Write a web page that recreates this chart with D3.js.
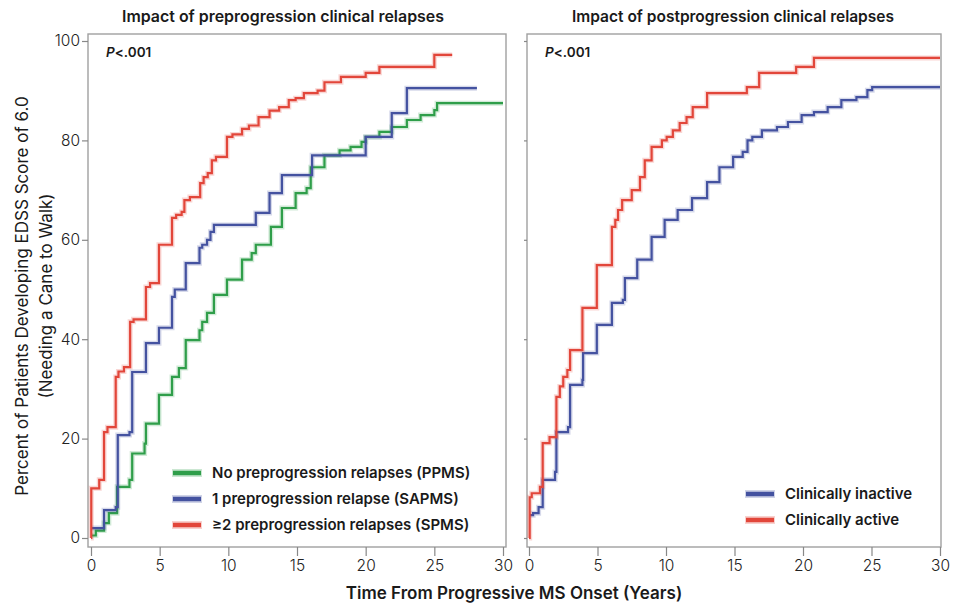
<!DOCTYPE html>
<html>
<head>
<meta charset="utf-8">
<script src="https://cdn.jsdelivr.net/npm/d3@7"></script>
<style>
  body { margin: 0; background: #fff; }
  text { font-family: Inter, "Noto Sans", sans-serif; fill: #1a1a1a; }
</style>
</head>
<body>
<div id="chart"></div>
<script>
var w = 960;
var h = 605;

// Panel titles and legend labels
var panelTitles = ["Impact of preprogression clinical relapses", "Impact of postprogression clinical relapses"];
var leftLabels = ["No preprogression relapses (PPMS)", "1 preprogression relapse (SAPMS)", "\u22652 preprogression relapses (SPMS)"];
var rightLabels = ["Clinically inactive", "Clinically active"];
var xTicks = [0, 5, 10, 15, 20, 25, 30];
var yTicks = [0, 20, 40, 60, 80, 100];

// Cumulative incidence, [years, percent] (step after)
var ppms = [[0, 0.5], [0.35, 1.5], [0.95, 3], [1.3, 5], [1.9, 10.3], [2.8, 11.7], [3.0, 17], [3.9, 19], [4.0, 23],
  [4.95, 28.8], [5.9, 32.4], [6.4, 34.2], [6.9, 39.8], [7.9, 41.8], [8.1, 43.5], [8.45, 45.3], [8.95, 48.9],
  [9.9, 52], [11.0, 56], [11.7, 57.3], [12.0, 59], [13.1, 62.6], [13.9, 66.4], [14.9, 69.4], [15.7, 70.4],
  [16.0, 74.6], [17.0, 77], [18.1, 78], [18.9, 78.7], [19.7, 79.7], [20.0, 80.7], [21.0, 81.7], [21.9, 82.7],
  [23.0, 84.1], [24.0, 85.1], [25.0, 86.1], [25.2, 87.5], [30, 87.5]];
var sapms = [[0, 2], [0.95, 5.6], [1.8, 6.2], [1.95, 20.7], [2.8, 21.3], [3.0, 33.4], [4.0, 39.2], [4.95, 42.3],
  [5.9, 48.5], [6.1, 50], [6.9, 55.3], [7.9, 58.4], [8.1, 59], [8.45, 60], [8.7, 61.6], [8.95, 63], [12.0, 65.4],
  [13.0, 69.4], [13.9, 73], [16.1, 77], [20.0, 80.7], [21.9, 85.5], [23.0, 90.5], [28.1, 90.5]];
var spms = [[0, 0], [0.02, 10], [0.6, 11.7], [0.95, 21.3], [1.2, 22.3], [1.8, 32.4], [2.0, 33.5], [2.4, 34.4],
  [2.85, 43.5], [3.1, 44], [4.0, 50.5], [4.3, 51.3], [4.95, 59], [5.9, 64.4], [6.2, 65], [6.6, 65.6], [6.8, 68],
  [7.2, 68.6], [7.95, 71.4], [8.2, 72.6], [8.5, 73.4], [8.8, 76], [9.1, 76.7], [9.9, 80.7], [10.3, 81.2],
  [11.0, 82.3], [11.5, 83], [12.2, 84.7], [13.0, 86], [13.7, 86.7], [14.4, 88.1], [14.9, 88.5], [15.5, 89.5],
  [16.5, 90], [17.0, 91.7], [18.2, 92.8], [20.0, 93.6], [21.0, 94.8], [25.0, 97.2], [26.3, 97.2]];
var inactive = [[0, 4.6], [0.3, 5], [0.7, 6.2], [1.0, 11.7], [1.9, 13.3], [2.0, 21.3], [2.85, 22.3], [3.0, 30.8],
  [3.9, 31.8], [3.95, 37.2], [4.95, 42.9], [6.05, 47.3], [6.85, 47.9], [7.0, 52.3], [7.9, 56], [8.95, 60.6],
  [9.9, 64], [10.85, 66], [11.9, 68.4], [13.0, 71.6], [13.9, 74.6], [14.9, 76.7], [15.6, 77.7], [15.95, 80],
  [16.3, 80.7], [17.0, 82], [18.1, 82.7], [18.9, 83.7], [19.9, 85.1], [20.8, 85.7], [21.8, 86.7], [22.8, 88.1],
  [23.9, 88.7], [24.7, 90.1], [25.05, 90.7], [30, 90.7]];
var active = [[0, 0], [0.05, 8.2], [0.2, 9], [0.8, 10.3], [1.0, 19.1], [1.5, 20.3], [2.0, 28.4], [2.25, 30.5],
  [2.5, 32.4], [2.8, 33.8], [3.0, 37.8], [3.9, 46.3], [4.95, 54.9], [6.05, 62.6], [6.3, 64], [6.5, 66], [6.8, 68],
  [7.5, 70], [8.1, 72.6], [8.45, 76], [8.95, 78.7], [9.7, 80], [10.05, 80.7], [10.5, 82], [11.0, 83.5],
  [11.5, 84.7], [11.95, 86.7], [13.0, 89.5], [15.9, 90.7], [16.8, 93.6], [19.5, 94.8], [20.8, 96.6], [30, 96.6]];

var green = "#2f9e4a";
var blue = "#4452a0";
var red = "#e2463a";

var svg = d3.select("#chart").append("svg").attr("width", w).attr("height", h);

var yScale = d3.scaleLinear().domain([0, 100]).range([538, 41]);

var panels = [
  { x0: 91, x1: 503, fl: 88, fr: 506, title: panelTitles[0], tx: 283, labels: true,
    series: [[ppms, green], [sapms, blue], [spms, red]],
    legend: { x: 172, y: 473, items: [[leftLabels[0], green], [leftLabels[1], blue], [leftLabels[2], red]] } },
  { x0: 529, x1: 940, fl: 527, fr: 941, title: panelTitles[1], tx: 733, labels: false,
    series: [[inactive, blue], [active, red]],
    legend: { x: 745, y: 494, items: [[rightLabels[0], blue], [rightLabels[1], red]] } }
];

var frameTop = 34, frameBottom = 547;

panels.forEach(function (p) {
  var xScale = d3.scaleLinear().domain([0, 30]).range([p.x0, p.x1]);
  var g = svg.append("g");

  // Frame
  g.append("rect")
    .attr("x", p.fl).attr("y", frameTop)
    .attr("width", p.fr - p.fl).attr("height", frameBottom - frameTop)
    .attr("fill", "none").attr("stroke", "#a0a0a0").attr("stroke-width", 1.4);

  // X axis
  var xAxis = d3.axisBottom(xScale).tickValues(xTicks).tickSize(9).tickPadding(4);
  var xg = g.append("g").attr("transform", "translate(0," + frameBottom + ")").call(xAxis);
  xg.select(".domain").remove();
  xg.selectAll("line").attr("stroke", "#888").attr("stroke-width", 1.2);
  xg.selectAll("text").attr("font-size", 15.5).attr("font-weight", 300)
    .attr("font-family", "Inter, sans-serif").style("fill", "#222");

  // Y axis
  var yAxis = d3.axisLeft(yScale).tickValues(yTicks).tickSize(p.labels ? 6 : 3).tickPadding(2);
  var yg = g.append("g").attr("transform", "translate(" + p.fl + ",0)").call(yAxis);
  yg.select(".domain").remove();
  yg.selectAll("line").attr("stroke", "#888").attr("stroke-width", 1.2);
  if (p.labels) {
    yg.selectAll("text").attr("font-size", 15.5).attr("font-weight", 300)
      .attr("font-family", "Inter, sans-serif").style("fill", "#222");
  } else {
    yg.selectAll("text").remove();
  }

  // Curves
  var line = d3.line()
    .x(function (d) { return xScale(d[0]); })
    .y(function (d) { return yScale(d[1]); })
    .curve(d3.curveStepAfter);

  p.series.forEach(function (s) {
    g.append("path").datum(s[0]).attr("d", line)
      .attr("fill", "none").attr("stroke", s[1]).attr("stroke-opacity", 0.22).attr("stroke-width", 5);
    g.append("path").datum(s[0]).attr("d", line)
      .attr("fill", "none").attr("stroke", s[1]).attr("stroke-width", 2.2);
  });

  // P value
  var pt = g.append("text").attr("x", p.fl + 18).attr("y", 57)
    .attr("font-size", 13.5).attr("font-weight", 600);
  pt.append("tspan").attr("font-style", "italic").text("P");
  pt.append("tspan").text("<.001");

  // Title
  g.append("text").attr("x", p.tx).attr("y", 22).attr("text-anchor", "middle")
    .attr("font-size", 16).attr("font-weight", 600)
    .attr("textLength", 322).attr("lengthAdjust", "spacingAndGlyphs")
    .text(p.title);

  // Legend
  p.legend.items.forEach(function (it, i) {
    var ly = p.legend.y + i * 26;
    g.append("line").attr("x1", p.legend.x).attr("x2", p.legend.x + 30)
      .attr("y1", ly).attr("y2", ly)
      .attr("stroke", it[1]).attr("stroke-width", 8).attr("stroke-opacity", 0.25);
    g.append("line").attr("x1", p.legend.x + 1).attr("x2", p.legend.x + 29)
      .attr("y1", ly).attr("y2", ly)
      .attr("stroke", it[1]).attr("stroke-width", 4.5);
    g.append("text").attr("x", p.legend.x + 40).attr("y", ly + 5)
      .attr("font-size", 15).attr("font-weight", 600)
      .text(it[0]);
  });
});

// Axis titles
svg.append("text").attr("x", 514).attr("y", 599).attr("text-anchor", "middle")
  .attr("font-size", 17).attr("font-weight", 600)
  .text("Time From Progressive MS Onset (Years)");

var yt = svg.append("g").attr("transform", "translate(0,296) rotate(-90)");
yt.append("text").attr("x", 0).attr("y", 28).attr("text-anchor", "middle")
  .attr("font-size", 17).attr("font-weight", 400)
  .text("Percent of Patients Developing EDSS Score of 6.0");
yt.append("text").attr("x", 0).attr("y", 52).attr("text-anchor", "middle")
  .attr("font-size", 17).attr("font-weight", 400)
  .text("(Needing a Cane to Walk)");
</script>
</body>
</html>
